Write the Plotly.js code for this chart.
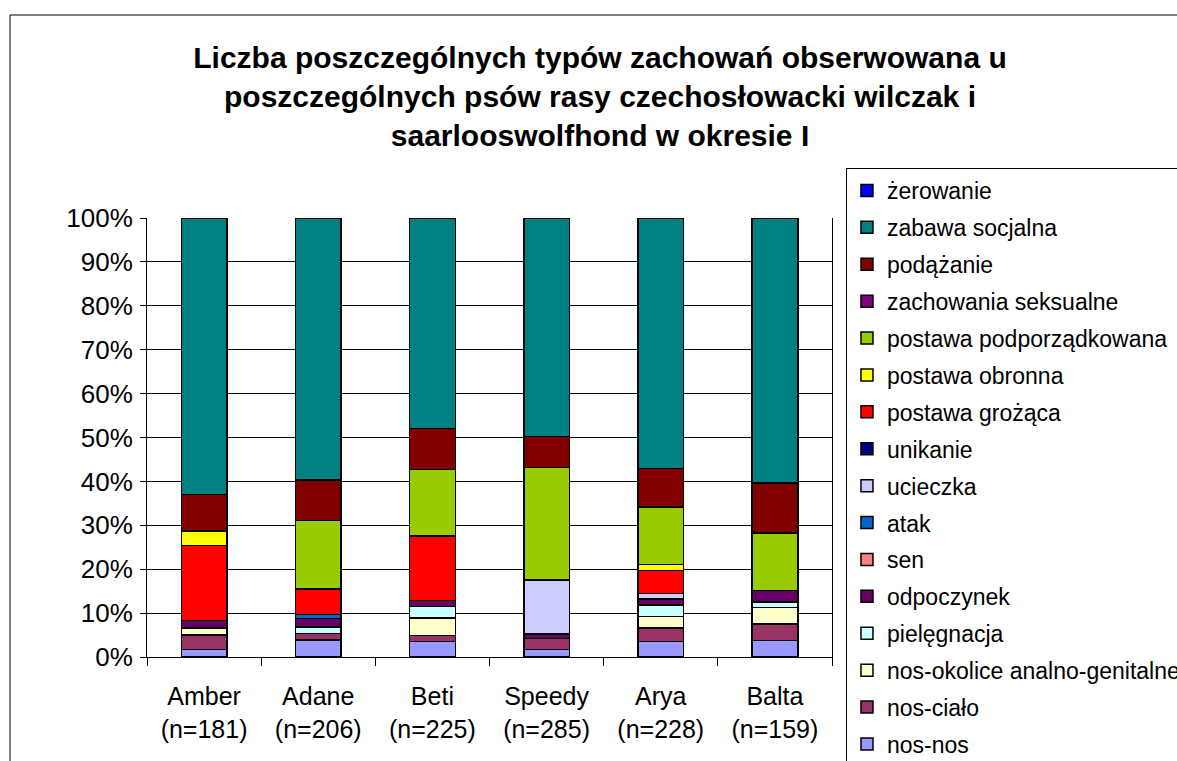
<!DOCTYPE html>
<html>
<head>
<meta charset="utf-8">
<script src="https://cdn.plot.ly/plotly-3.0.1.min.js"></script>
<style>html,body{margin:0;padding:0;background:#fff;overflow:hidden;width:1177px;height:761px;}#chart{width:1200px;height:790px;}</style>
</head>
<body>
<div id="chart"></div>
<script>
// Categories (dogs) and tick labels
var dogs = ["Amber", "Adane", "Beti", "Speedy", "Arya", "Balta"];
var tickLabels = ["Amber<br>(n=181)", "Adane<br>(n=206)", "Beti<br>(n=225)", "Speedy<br>(n=285)", "Arya<br>(n=228)", "Balta<br>(n=159)"];

// Counts of each behaviour type per dog (stacked bottom to top)
var nosNos          = [3, 8, 8, 5, 8, 6];
var nosCialo        = [6, 3, 3, 7, 7, 6];
var nosOkolice      = [3, 0, 9, 0, 6, 6];
var pielegnacja     = [0, 3, 6, 0, 6, 2];
var odpoczynek      = [3, 4, 3, 3, 3, 4];
var sen             = [0, 0, 0, 0, 0, 0];
var atak            = [0, 2, 0, 0, 0, 0];
var ucieczka        = [0, 0, 0, 35, 3, 0];
var unikanie        = [0, 0, 0, 0, 0, 0];
var postawaGrozaca  = [31, 12, 33, 0, 12, 0];
var postawaObronna  = [6, 0, 0, 0, 3, 0];
var postawaPodporz  = [0, 32, 34, 73, 30, 21];
var zachSeksualne   = [0, 0, 0, 0, 0, 0];
var podazanie       = [15, 19, 21, 20, 20, 18];
var zabawaSocjalna  = [114, 123, 108, 142, 130, 96];
var zerowanie       = [0, 0, 0, 0, 0, 0];

var seriesNames = ["nos-nos", "nos-ciało", "nos-okolice analno-genitalne", "pielęgnacja", "odpoczynek", "sen", "atak", "ucieczka", "unikanie", "postawa grożąca", "postawa obronna", "postawa podporządkowana", "zachowania seksualne", "podążanie", "zabawa socjalna", "żerowanie"];
var seriesValues = [nosNos, nosCialo, nosOkolice, pielegnacja, odpoczynek, sen, atak, ucieczka, unikanie, postawaGrozaca, postawaObronna, postawaPodporz, zachSeksualne, podazanie, zabawaSocjalna, zerowanie];
var seriesColors = ["#9999FF", "#993366", "#FFFFCC", "#CCFFFF", "#660066", "#FF8080", "#0066CC", "#CCCCFF", "#000080", "#FF0000", "#FFFF00", "#99CC00", "#800080", "#800000", "#008080", "#0000FF"];

var FONT = "Liberation Sans, Arial, sans-serif";

var traces = seriesNames.map(function (name, i) {
  return {
    type: "bar",
    name: name,
    x: dogs,
    y: seriesValues[i],
    legendgroup: "g" + i,
    legendrank: 100 - i,
    marker: { color: seriesColors[i], line: { color: "#000000", width: 1.5 } },
    hoverinfo: "name+y"
  };
});

// Figure is slightly larger than the 1177x761 window so the legend can run off the edges as in the reference
var layout = {
  width: 1200,
  height: 790,
  paper_bgcolor: "#ffffff",
  plot_bgcolor: "#ffffff",
  margin: { l: 147, r: 368, t: 218, b: 133, pad: 0 },
  barmode: "stack",
  barnorm: "percent",
  bargap: 0.6,
  font: { family: FONT, color: "#000000" },
  title: {
    text: "Liczba poszczególnych typów zachowań obserwowana u<br>poszczególnych psów rasy czechosłowacki wilczak i<br>saarlooswolfhond w okresie I",
    font: { family: FONT, size: 30, color: "#000000", weight: "bold" },
    xref: "container", x: 0.5, xanchor: "center",
    yref: "container", y: 0.9139, yanchor: "middle"
  },
  xaxis: {
    type: "category",
    tickvals: dogs,
    ticktext: tickLabels,
    tickson: "boundaries",
    ticks: "outside",
    ticklen: 8,
    tickcolor: "#000000",
    ticklabelstandoff: 17,
    showline: true,
    linecolor: "#000000",
    linewidth: 1,
    mirror: false,
    showgrid: false,
    tickfont: { family: FONT, size: 25, color: "#000000" },
    automargin: false
  },
  yaxis: {
    range: [0, 100],
    dtick: 10,
    ticksuffix: "%",
    ticks: "outside",
    ticklen: 6,
    tickcolor: "#000000",
    ticklabelstandoff: 2,
    showline: true,
    linecolor: "#000000",
    linewidth: 1,
    mirror: true,
    showgrid: true,
    gridcolor: "#000000",
    gridwidth: 1,
    zeroline: false,
    tickfont: { family: FONT, size: 26, color: "#000000" },
    automargin: false
  },
  legend: {
    x: 1.0204, xanchor: "left",
    y: 1.1139, yanchor: "top",
    traceorder: "grouped",
    tracegroupgap: 4,
    maxheight: 3000,
    bgcolor: "#ffffff",
    bordercolor: "#000000",
    borderwidth: 1,
    font: { family: FONT, size: 23, color: "#000000" }
  },
  shapes: [{
    type: "rect", xref: "paper", yref: "paper",
    x0: -0.2, x1: 2, y0: -1, y1: 1.4624,
    line: { color: "#000000", width: 1 }, fillcolor: "rgba(0,0,0,0)", layer: "below"
  }],
  showlegend: true
};

Plotly.newPlot("chart", traces, layout, { displayModeBar: false, staticPlot: true });
</script>
</body>
</html>
